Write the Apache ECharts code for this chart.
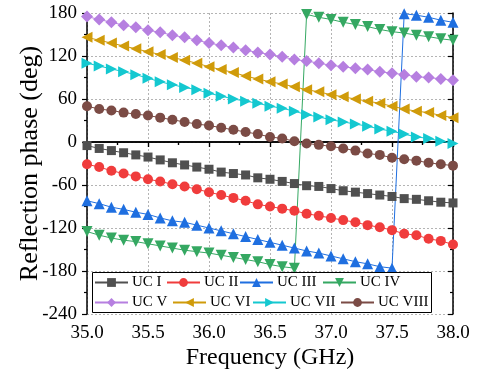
<!DOCTYPE html>
<html><head><meta charset="utf-8">
<script src="https://cdn.jsdelivr.net/npm/echarts@6/dist/echarts.min.js"></script>
<style>html,body{margin:0;padding:0;background:#fff}#c{width:480px;height:375px}</style>
</head><body><div id="c"></div>
<script>
const freq = [35.0,35.1,35.2,35.3,35.4,35.5,35.6,35.7,35.8,35.9,36.0,36.1,36.2,36.3,36.4,36.5,36.6,36.7,36.8,36.9,37.0,37.1,37.2,37.3,37.4,37.5,37.6,37.7,37.8,37.9,38.0];
const ucI = [-5,-9,-12,-15,-18,-21,-25,-29,-32,-35,-38,-42,-44,-46,-50,-52,-55,-58,-61,-62,-65,-68,-70,-72,-74,-76,-79,-80,-82,-84,-85];
const ucII = [-31,-35,-40,-44,-48,-52,-55,-59,-62,-66,-70,-74,-78,-82,-87,-90,-93,-96,-100,-103,-106,-109,-112,-116,-119,-123,-128,-130,-135,-138,-143];
const ucIII = [-82,-86,-91,-94,-98,-101,-106,-110,-112,-116,-120,-124,-128,-132,-136,-140,-144,-148,-152,-155,-159,-163,-167,-170,-174,-176,179,177,174,170,167];
const ucIV = [-125,-130,-134,-137,-139,-142,-145,-148,-151,-153,-155,-158,-161,-164,-167,-171,-174,-176,178,174,171,167,164,161,157,154,152,149,147,144,142];
const ucV = [175,171,167,163,160,156,153,149,146,142,138,135,132,128,125,122,119,115,113,110,107,105,103,101,98,96,94,91,90,88,86];
const ucVI = [146,142,138,134,130,126,122,118,114,110,105,101,97,92,88,84,81,77,73,70,66,63,60,57,54,50,46,43,41,37,34];
const ucVII = [110,106,102,98,94,89,84,80,76,73,68,64,60,57,54,50,47,43,38,35,31,28,25,22,18,15,11,7,5,1,-2];
const ucVIII = [50,46,44,41,39,37,34,31,28,25,23,20,17,14,11,7,5,1,-2,-4,-6,-9,-12,-16,-18,-22,-24,-26,-29,-31,-33];
const names = ['UC I','UC II','UC III','UC IV','UC V','UC VI','UC VII','UC VIII'];
const values = [ucI,ucII,ucIII,ucIV,ucV,ucVI,ucVII,ucVIII];
const xTicks = [35.0,35.5,36.0,36.5,37.0,37.5,38.0];
const yTicks = [-240,-180,-120,-60,0,60,120,180];

const colors = ['#505050','#f03c3c','#1f6fe0','#35a862','#b67fe0','#d09b0a','#14c8d0','#7b4b45'];
const symbols = ['rect','circle','triangle','triangle','diamond','triangle','triangle','circle'];
const rotates = [0,0,0,180,0,90,-90,0];
const sizes = [9,10,11,11,12,11,11,10];
const legendPos = [[94,275],[166,275],[239,275],[322,275],[94,295],[172,295],[252,295],[340,295]];

const font = "'Liberation Serif', 'Times New Roman', serif";
const chart = echarts.init(document.getElementById('c'), null, {renderer:'canvas'});
const series = values.map((v,i)=>({
  name: names[i], type:'line', xAxisIndex:0, yAxisIndex:0,
  data: v.map((y,j)=>[freq[j], y]),
  symbol: symbols[i], symbolSize: sizes[i], symbolRotate: rotates[i],
  showAllSymbol: true,
  lineStyle:{color:colors[i], width:1},
  itemStyle:{color:colors[i]},
  z: 2
}));
const legends = names.map((n,i)=>({
  data:[n], left: legendPos[i][0], top: legendPos[i][1], padding:0,
  itemWidth:33, itemHeight:11, itemGap:0, z: 10,
  textStyle:{fontFamily:font, fontSize:15, color:'#000', padding:[0,0,0,-1]}
}));
const axisLine = {show:true, lineStyle:{color:'#000', width:1.5}};
chart.setOption({
  animation:false,
  grid:{left:87, right:27, top:13, bottom:59, containLabel:false},
  legend: legends,
  xAxis:[{
    type:'value', min:35, max:38, interval:0.5, position:'bottom',
    axisLine: axisLine,
    axisTick:{show:true, inside:false, length:5, lineStyle:{color:'#000', width:1.2}},
    minorTick:{show:true, splitNumber:2, length:3, lineStyle:{color:'#000', width:1.2}},
    axisLabel:{fontFamily:font, fontSize:19, color:'#000', margin:10, formatter:v=>v.toFixed(1)},
    splitLine:{show:true, lineStyle:{color:'#b4b4b4', type:[2,2], width:1}},
    name:'Frequency (GHz)', nameLocation:'middle', nameGap:32, nameMoveOverlap:false,
    nameTextStyle:{fontFamily:font, fontSize:24, color:'#000'}
  },{
    type:'value', min:35, max:38, interval:0.5, position:'top',
    axisLine: axisLine,
    axisTick:{show:true, inside:true, length:5, lineStyle:{color:'#000', width:1.2}},
    minorTick:{show:true, splitNumber:2, length:3, lineStyle:{color:'#000', width:1.2}},
    axisLabel:{show:false}, splitLine:{show:false}
  }],
  yAxis:[{
    type:'value', min:-240, max:180, interval:60, position:'left',
    axisLine: axisLine,
    axisTick:{show:true, inside:false, length:5, lineStyle:{color:'#000', width:1.2}},
    minorTick:{show:true, splitNumber:2, length:3, lineStyle:{color:'#000', width:1.2}},
    axisLabel:{fontFamily:font, fontSize:19, color:'#000', margin:10},
    splitLine:{show:true, lineStyle:{color:'#b4b4b4', type:[2,2], width:1}},
    name:'Reflection phase (deg)', nameLocation:'middle', nameGap:44, nameMoveOverlap:false,
    nameTextStyle:{fontFamily:font, fontSize:26, color:'#000'}
  },{
    type:'value', min:-240, max:180, interval:60, position:'right',
    axisLine: axisLine,
    axisTick:{show:true, inside:true, length:5, lineStyle:{color:'#000', width:1.2}},
    minorTick:{show:true, splitNumber:2, length:3, lineStyle:{color:'#000', width:1.2}},
    axisLabel:{show:false}, splitLine:{show:false}
  }],
  graphic:[{type:'rect', shape:{x:92.5, y:272.5, width:339, height:40}, style:{fill:'#fff', stroke:'#000', lineWidth:1}, z:9}],
  series: series
});
</script></body></html>
